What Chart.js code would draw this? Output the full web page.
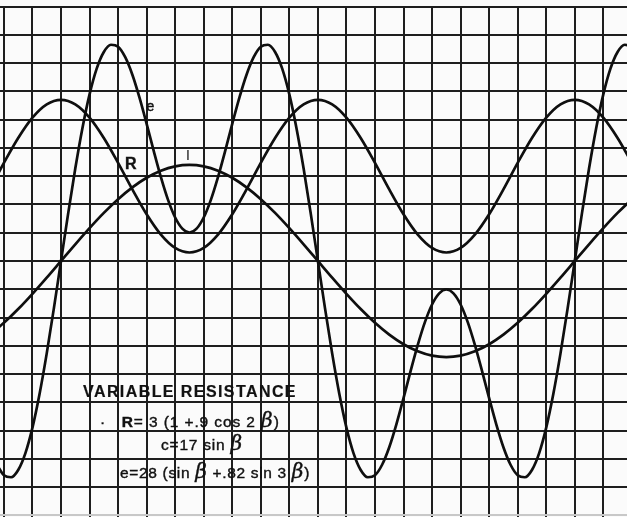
<!DOCTYPE html>
<html>
<head>
<meta charset="utf-8">
<script src="https://cdn.jsdelivr.net/npm/chart.js@4.4.1/dist/chart.umd.min.js"></script>
<style>
  html, body { margin: 0; padding: 0; background: #fbfbfb; }
  #wrap { position: relative; width: 627px; height: 517px; overflow: hidden; background: #fbfbfb; }
  #chart { position: absolute; left: 0; top: 0; }
  .note {
    position: absolute; white-space: nowrap; line-height: 1;
    font-family: "Liberation Sans", Arial, sans-serif; color: #111;
    -webkit-text-stroke: 0.4px #111;
  }
  .b { font-family: "DejaVu Serif", "Liberation Serif", serif; font-style: italic; font-size: 1.3em; line-height: 0; }
</style>
</head>
<body>
<div id="wrap">
  <canvas id="chart" width="627" height="517"></canvas>

  <div class="note" style="left:146.5px;top:99px;font-size:14px">e</div>
  <div class="note" style="left:125px;top:155.8px;font-size:16px;font-weight:bold">R</div>
  <div class="note" style="left:186px;top:148px;font-size:14px;-webkit-text-stroke:0">I</div>

  <div class="note fit" data-w="214" style="left:83px;top:383.5px;font-size:16px;font-weight:bold;-webkit-text-stroke:0.2px #111">VARIABLE RESISTANCE</div>
  <div class="note" style="left:100px;top:413.6px;font-size:15.5px">·</div>
  <div class="note fit" data-w="158" style="left:121.7px;top:413.6px;font-size:15.5px"><b>R</b>= 3 (1 +.9 cos 2 <span class="b">β</span>)</div>
  <div class="note fit" data-w="82" style="left:161px;top:436.9px;font-size:15.5px">c=17 sin <span class="b">β</span></div>
  <div class="note fit" data-w="190" style="left:120px;top:464.9px;font-size:15.5px">e=28 (sin <span class="b">β</span> +.82 sin 3 <span class="b">β</span>)</div>
</div>

<script>
// angle beta in degrees
const betaFine = [-45, -40, -35, -30, -25, -20, -15, -10, -5, 0, 5, 10, 15, 20, 25, 30, 35, 40, 45, 50,
  55, 60, 65, 70, 75, 80, 85, 90, 95, 100, 105, 110, 115, 120, 125, 130, 135, 140, 145, 150,
  155, 160, 165, 170, 175, 180, 185, 190, 195, 200, 205, 210, 215, 220, 225, 230, 235, 240, 245, 250,
  255, 260, 265, 270, 275, 280, 285, 290, 295, 300, 305, 310, 315, 320, 325, 330, 335, 340, 345, 350,
  355, 360, 365, 370, 375, 380, 385, 390, 395, 400];
const betaCoarse = [-50, -40, -30, -20, -10, 0, 10, 20, 30, 40, 50, 60, 70, 80, 90, 100, 110, 120, 130,
  140, 150, 160, 170, 180, 190, 200, 210, 220, 230, 240, 250, 260, 270, 280, 290, 300, 310, 320, 330,
  340, 350, 360, 370, 380, 390, 400];

// e = 28 (sin b + .82 sin 3b)
const eVolts = [-36.03, -37.88, -38.24, -36.96, -34.01, -29.46, -23.48, -16.34, -8.38, 0, 8.38, 16.34, 23.48, 29.46, 34.01, 36.96, 38.24, 37.88, 36.03, 32.93,
  28.88, 24.25, 19.43, 14.83, 10.81, 7.69, 5.72, 5.04, 5.72, 7.69, 10.81, 14.83, 19.43, 24.25, 28.88, 32.93, 36.03, 37.88, 38.24, 36.96,
  34.01, 29.46, 23.48, 16.34, 8.38, 0, -8.38, -16.34, -23.48, -29.46, -34.01, -36.96, -38.24, -37.88, -36.03, -32.93, -28.88, -24.25, -19.43, -14.83,
  -10.81, -7.69, -5.72, -5.04, -5.72, -7.69, -10.81, -14.83, -19.43, -24.25, -28.88, -32.93, -36.03, -37.88, -38.24, -36.96, -34.01, -29.46, -23.48, -16.34,
  -8.38, 0, 8.38, 16.34, 23.48, 29.46, 34.01, 36.96, 38.24, 37.88];

// c = 17 sin b
const cAmps = [-13.02, -10.93, -8.5, -5.81, -2.95, 0, 2.95, 5.81, 8.5, 10.93, 13.02, 14.72, 15.97, 16.74, 17, 16.74, 15.97, 14.72, 13.02,
  10.93, 8.5, 5.81, 2.95, 0, -2.95, -5.81, -8.5, -10.93, -13.02, -14.72, -15.97, -16.74, -17, -16.74, -15.97, -14.72, -13.02, -10.93, -8.5,
  -5.81, -2.95, 0, 2.95, 5.81, 8.5, 10.93];

// R = 3 (1 + .9 cos 2b), ohms
const rOhms = [2.53, 3.47, 4.35, 5.07, 5.54, 5.7, 5.54, 5.07, 4.35, 3.47, 2.53, 1.65, 0.93, 0.46, 0.3, 0.46, 0.93, 1.65, 2.53,
  3.47, 4.35, 5.07, 5.54, 5.7, 5.54, 5.07, 4.35, 3.47, 2.53, 1.65, 0.93, 0.46, 0.3, 0.46, 0.93, 1.65, 2.53, 3.47, 4.35,
  5.07, 5.54, 5.7, 5.54, 5.07, 4.35, 3.47];

const pts = (xs, ys) => xs.map((x, i) => ({ x: x, y: ys[i] }));

const yMin = -45.27, yMax = 45;
const rScale = 5; // R drawn five times larger than e and c

const curve = {
  borderColor: '#0f0f0f',
  borderWidth: 2.7,
  pointRadius: 0,
  fill: false,
  cubicInterpolationMode: 'monotone'
};

const grid = {
  color: (ctx) => (ctx.tick && ctx.tick.value === -45 ? '#c8c8c8' : '#1e1e1e'),
  lineWidth: 2,
  drawTicks: false
};

new Chart(document.getElementById('chart'), {
  type: 'line',
  data: {
    datasets: [
      Object.assign({ label: 'e', data: pts(betaFine, eVolts), yAxisID: 'y' }, curve),
      Object.assign({ label: 'c', data: pts(betaCoarse, cAmps), yAxisID: 'y' }, curve),
      Object.assign({ label: 'R', data: pts(betaCoarse, rOhms), yAxisID: 'yR' }, curve)
    ]
  },
  options: {
    responsive: false,
    animation: false,
    devicePixelRatio: 1,
    layout: { padding: { top: 6.5, left: 0, right: 0, bottom: 0 } },
    plugins: { legend: { display: false }, tooltip: { enabled: false } },
    scales: {
      x: {
        type: 'linear',
        min: -42.75,
        max: 396.6,
        grid: grid,
        border: { display: false },
        ticks: { display: false, stepSize: 20, includeBounds: false }
      },
      y: {
        min: yMin,
        max: yMax,
        grid: grid,
        border: { display: false },
        ticks: { display: false, stepSize: 5, includeBounds: false }
      },
      yR: {
        display: false,
        min: yMin / rScale,
        max: yMax / rScale
      }
    }
  }
});

// stretch the formula lines to their box widths
document.querySelectorAll('.fit').forEach((el) => {
  const target = +el.dataset.w;
  const n = el.textContent.length;
  const w = el.getBoundingClientRect().width;
  el.style.letterSpacing = ((target - w) / n).toFixed(2) + 'px';
});
</script>
</body>
</html>
